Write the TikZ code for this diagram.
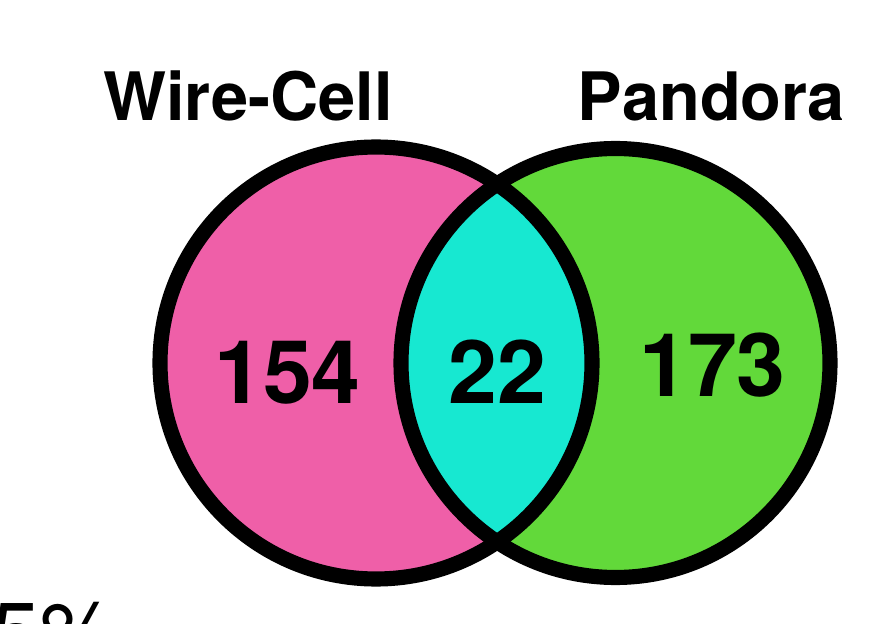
\documentclass[tikz,border=0pt]{standalone}
\usepackage{fontspec}
\setmainfont{TeX Gyre Heros}
\usepackage{xcolor}
\usepackage{tikz}
\definecolor{pinkset}{HTML}{EF5FA8}
\definecolor{greenset}{HTML}{62D93A}
\definecolor{cyanset}{HTML}{17E8D1}
\tikzset{
  ring/.style={draw=black, line width=4.3pt},
  title/.style={font=\fontsize{19}{22}\selectfont\bfseries, anchor=base, inner sep=0pt},
  count/.style={font=\fontsize{25}{28}\selectfont\bfseries, anchor=base, inner sep=0pt},
  note/.style={font=\fontsize{25}{28}\selectfont, anchor=base east, inner sep=0pt},
}

\begin{document}
\begin{tikzpicture}
  \useasboundingbox (0,0) rectangle (8.77,6.23);
  \clip (0,0) rectangle (8.77,6.23);
  \def\rA{2.16}
  \def\rB{2.145}
  \coordinate (WC) at (3.76,2.60);
  \coordinate (PA) at (6.155,2.60);
  % sets
  \fill[pinkset] (WC) circle (\rA);
  \fill[greenset] (PA) circle (\rB);
  \begin{scope}
    \clip (WC) circle (\rA);
    \fill[cyanset] (PA) circle (\rB);
  \end{scope}
  \draw[ring] (WC) circle (\rA);
  \draw[ring] (PA) circle (\rB);
  % labels
  \node[title] (wclab) at (2.48,5.03) {Wire-Cell};
  \node[title] (palab) at (7.115,5.03) {Pandora};
  \node[count] (only1) at (2.875,2.20) {154};
  \node[count] (both) at (4.97,2.20) {22};
  \node[count] (only2) at (7.125,2.26) {173};
  \node[note] (frac) at (1.19,-0.41) {5\%};
\end{tikzpicture}
\end{document}
